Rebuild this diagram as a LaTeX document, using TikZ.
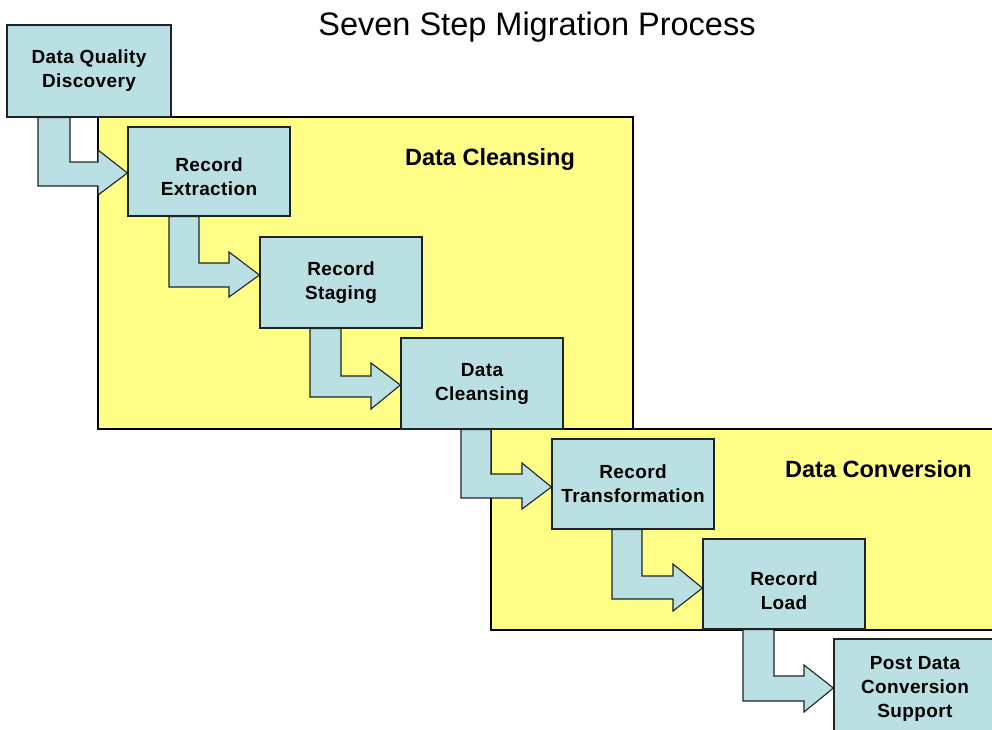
\documentclass[tikz,border=0pt]{standalone}
\usepackage{fontspec}
\setmainfont{Liberation Sans}
\definecolor{stepblue}{RGB}{187,224,228}
\definecolor{zoneyellow}{RGB}{255,255,136}
\definecolor{edgegray}{RGB}{30,36,36}
\pgfdeclarelayer{zonelayer}
\pgfdeclarelayer{flowlayer}
\pgfsetlayers{zonelayer,flowlayer,main}
\begin{document}
\begin{tikzpicture}[x=1pt,y=-1pt,
  steptext/.style={align=center, inner sep=0pt,
    font=\fontsize{19}{24}\selectfont\bfseries\addfontfeature{LetterSpace=2}},
  stepbox/.style={draw=edgegray, line width=1.2pt, fill=stepblue,
    minimum width=162pt, minimum height=90pt, steptext},
  zone/.style={draw=black, line width=1.2pt, fill=zoneyellow},
  zonelabel/.style={anchor=base, inner sep=0pt,
    font=\fontsize{23.5}{28}\selectfont\bfseries},
  flow/.style={fill=stepblue, draw=edgegray, line width=1.1pt, line join=miter}]
\useasboundingbox (0,0) rectangle (992,729);
\clip (0,0) rectangle (992,729);

% title
\node[anchor=base, inner sep=0pt, font=\fontsize{32.5}{36}\selectfont]
  (title) at (537,35) {Seven Step Migration Process};

% the seven steps
\node[stepbox, minimum width=164pt, minimum height=92pt] (q) at (89,71) {Data Quality\\Discovery};
\node[stepbox, minimum height=89pt,
  label={[steptext, yshift=-5pt]center:Record\\Extraction}] (ext) at (209,171.5) {};
\node[stepbox, minimum height=91pt] (stg) at (341,282.5) {Record\\Staging};
\node[stepbox, minimum height=91pt] (cln) at (482,383.5) {Data\\Cleansing};
\node[stepbox] (trf) at (633,484) {Record\\Transformation};
\node[stepbox,
  label={[steptext, yshift=-7pt]center:Record\\Load}] (lod) at (784,584) {};
\node[stepbox, minimum height=100pt] (pst) at (915,689) {Post Data\\Conversion\\Support};

% phase areas
\begin{pgfonlayer}{zonelayer}
  \fill[white] (0,0) rectangle (992,729);
  \draw[zone] (98,117) rectangle (633,429);
  \draw[zone] (491,429) rectangle (1000,630);
\end{pgfonlayer}
\node[zonelabel] (phase1) at (490,165) {Data Cleansing};
\node[zonelabel] (phase2) at (878.5,477) {Data Conversion};

% bent block arrows between consecutive steps
\begin{pgfonlayer}{flowlayer}
  \draw[flow] (38,0 |- q.south) -- (70,0 |- q.south) -- (70,162) -- (98,162)
    -- (98,150) -- (ext.west |- 0,173) -- (98,195) -- (98,186) -- (38,186) -- cycle;
  \draw[flow] (169,0 |- ext.south) -- (199,0 |- ext.south) -- (199,263) -- (229,263)
    -- (229,252) -- (stg.west |- 0,275) -- (229,297) -- (229,287) -- (169,287) -- cycle;
  \draw[flow] (310,0 |- stg.south) -- (341,0 |- stg.south) -- (341,376) -- (371,376)
    -- (371,363) -- (cln.west |- 0,385) -- (371,409) -- (371,397) -- (310,397) -- cycle;
  \draw[flow] (461,0 |- cln.south) -- (491,0 |- cln.south) -- (491,474) -- (522,474)
    -- (522,463) -- (trf.west |- 0,487) -- (522,509) -- (522,498) -- (461,498) -- cycle;
  \draw[flow] (612,0 |- trf.south) -- (642,0 |- trf.south) -- (642,576) -- (673,576)
    -- (673,564) -- (lod.west |- 0,588) -- (673,611) -- (673,599) -- (612,599) -- cycle;
  \draw[flow] (743,0 |- lod.south) -- (774,0 |- lod.south) -- (774,676) -- (804,676)
    -- (804,665) -- (pst.west |- 0,688) -- (804,712) -- (804,701) -- (743,701) -- cycle;
\end{pgfonlayer}
\end{tikzpicture}
\end{document}
